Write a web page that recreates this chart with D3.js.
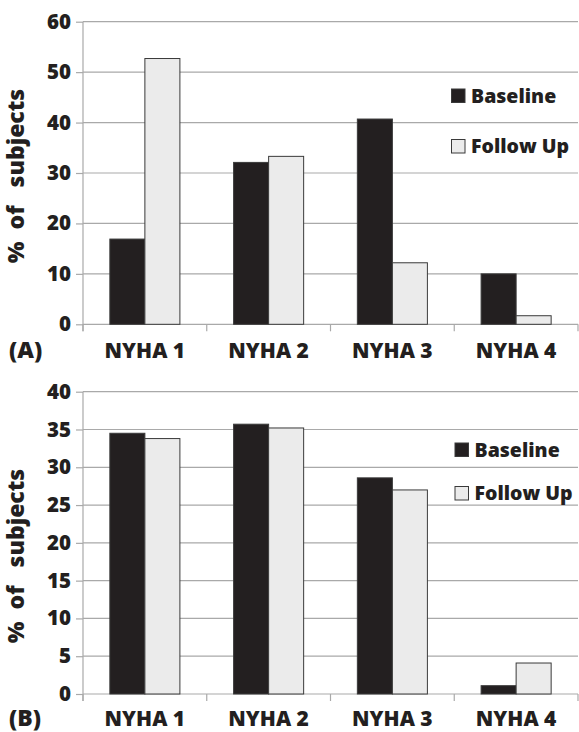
<!DOCTYPE html>
<html>
<head>
<meta charset="utf-8">
<script src="https://cdnjs.cloudflare.com/ajax/libs/d3/7.8.5/d3.min.js"></script>
<style>
  body { margin: 0; background: #fff; }
  text { font-family: "Open Sans", Lato, sans-serif; font-weight: 800; fill: #231f20; }
</style>
</head>
<body>
<svg width="579" height="732"></svg>
<script>
// data
var categories = ["NYHA 1", "NYHA 2", "NYHA 3", "NYHA 4"];
var series = ["Baseline", "Follow Up"];
var colors = ["#231f20", "#ebebeb"];

var baselineA = [16.9, 32.1, 40.7, 10.0];
var followUpA = [52.7, 33.3, 12.2, 1.7];
var ticksA = [0, 10, 20, 30, 40, 50, 60];

var baselineB = [34.5, 35.7, 28.6, 1.1];
var followUpB = [33.8, 35.2, 27.0, 4.1];
var ticksB = [0, 5, 10, 15, 20, 25, 30, 35, 40];

var svg = d3.select('svg');

var left = 83, right = 578;

function drawPanel(opt) {
    var g = svg.append("g");

    var y = d3.scaleLinear()
        .domain([0, d3.max(opt.ticks)])
        .range([opt.bottom, opt.top]);

    var x = d3.scaleBand()
        .domain(categories)
        .range([left, right])
        .paddingInner(0.434)
        .paddingOuter(0.217);

    var xs = d3.scaleBand()
        .domain(series)
        .range([0, x.bandwidth()]);

    //gridlines
    g.selectAll(".grid")
        .data(opt.ticks)
        .enter().append("line")
        .attr("x1", left)
        .attr("x2", right)
        .attr("y1", function(d) { return y(d); })
        .attr("y2", function(d) { return y(d); })
        .attr("stroke", "#a9a9a9")
        .attr("stroke-width", 1.2);

    //y axis
    var yAxis = g.append("g")
        .attr("transform", "translate(" + left + ",0)")
        .call(d3.axisLeft(y).tickValues(opt.ticks).tickSize(7).tickPadding(5));
    yAxis.select(".domain").remove();
    yAxis.selectAll("line").attr("stroke", "#a9a9a9").attr("stroke-width", 1.2);
    yAxis.selectAll("text")
        .style("font-family", "'Open Sans', sans-serif")
        .style("font-weight", "800")
        .style("font-size", "20.5px")
        .attr("fill", "#231f20");

    g.append("line")
        .attr("x1", left).attr("x2", left)
        .attr("y1", y(d3.max(opt.ticks)))
        .attr("y2", opt.bottom + 7)
        .attr("stroke", "#a9a9a9")
        .attr("stroke-width", 1.2);

    //category separators
    g.selectAll(".sep")
        .data(d3.range(categories.length + 1))
        .enter().append("line")
        .attr("x1", function(d) { return left + d * x.step(); })
        .attr("x2", function(d) { return left + d * x.step(); })
        .attr("y1", opt.bottom)
        .attr("y2", opt.bottom + 7)
        .attr("stroke", "#a9a9a9")
        .attr("stroke-width", 1.2);

    //bars
    var groups = g.selectAll(".grp")
        .data(categories)
        .enter().append("g")
        .attr("transform", function(d) { return "translate(" + x(d) + ",0)"; });

    groups.selectAll("rect")
        .data(function(d, i) { return [opt.baseline[i], opt.followUp[i]]; })
        .enter().append("rect")
        .attr("x", function(d, i) { return xs(series[i]); })
        .attr("width", xs.bandwidth())
        .attr("y", function(d) { return y(d); })
        .attr("height", function(d) { return y(0) - y(d); })
        .attr("fill", function(d, i) { return colors[i]; })
        .attr("stroke", "#3a3a3a")
        .attr("stroke-width", 1);

    //category labels
    g.selectAll(".cat")
        .data(categories)
        .enter().append("text")
        .attr("x", function(d) { return x(d) + x.bandwidth() / 2; })
        .attr("y", opt.labelY)
        .attr("text-anchor", "middle")
        .style("font-size", "21px")
        .text(function(d) { return d; });

    //panel label
    g.append("text")
        .attr("x", 9)
        .attr("y", opt.labelY)
        .style("font-size", "23px")
        .text(opt.label);

    //y title
    g.append("text")
        .attr("transform", "translate(24," + opt.titleY + ") rotate(-90)")
        .attr("text-anchor", "middle")
        .style("font-size", "23px")
        .style("white-space", "pre")
        .text("%  of   subjects");

    //legend
    var leg = g.selectAll(".leg")
        .data(series)
        .enter().append("g")
        .attr("transform", function(d, i) {
            return "translate(" + opt.legX + "," + opt.legY[i] + ")";
        });
    leg.append("rect")
        .attr("x", 0).attr("y", -13.5)
        .attr("width", 13.5).attr("height", 13.5)
        .attr("fill", function(d, i) { return colors[i]; })
        .attr("stroke", "#3a3a3a")
        .attr("stroke-width", 1);
    leg.append("text")
        .attr("x", 19.5)
        .attr("y", 0)
        .style("font-size", "19.5px")
        .text(function(d) { return d; });
}

drawPanel({
    baseline: baselineA, followUp: followUpA, ticks: ticksA,
    top: 21.7, bottom: 324.3, label: "(A)", titleY: 176, labelY: 358,
    legX: 451.5, legY: [102.5, 153]
});

drawPanel({
    baseline: baselineB, followUp: followUpB, ticks: ticksB,
    top: 391.7, bottom: 694, label: "(B)", titleY: 556, labelY: 726,
    legX: 455, legY: [456.5, 500]
});
</script>
</body>
</html>
